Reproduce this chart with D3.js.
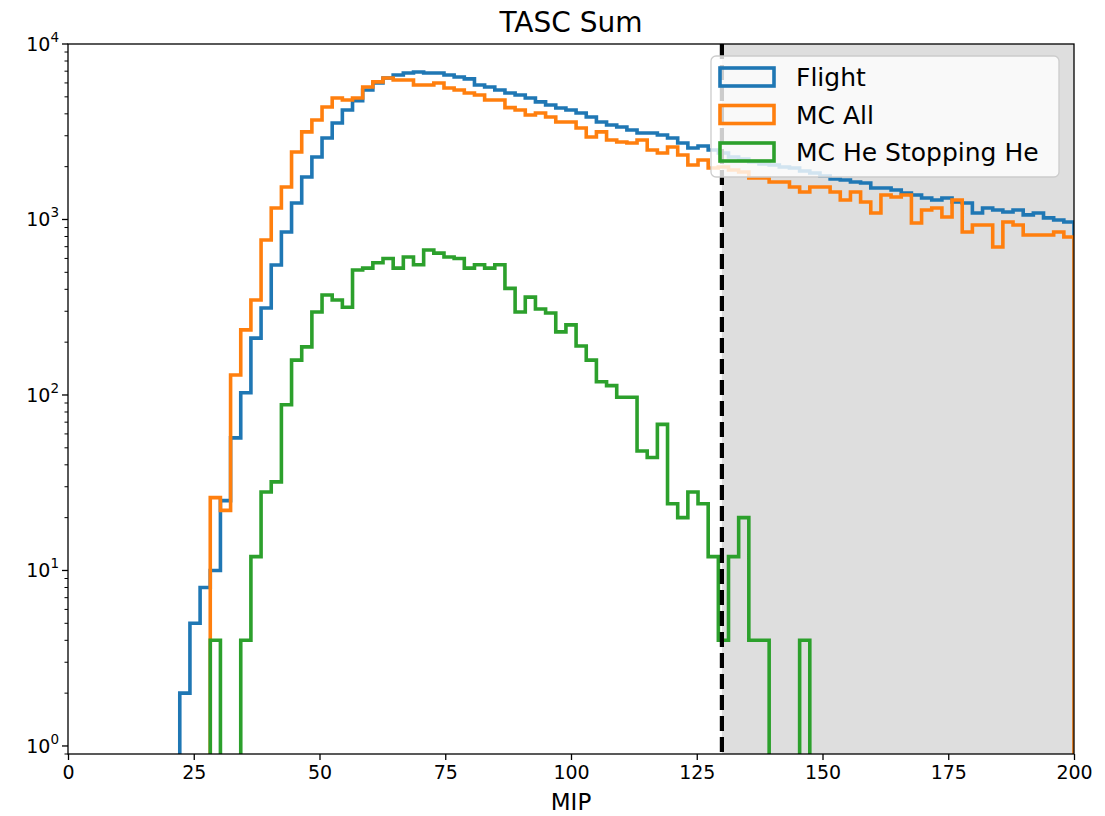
<!DOCTYPE html>
<html>
<head>
<meta charset="utf-8">
<script src="https://cdn.jsdelivr.net/npm/d3@7"></script>
<style>
  html, body { margin: 0; padding: 0; background: #fff; }
  svg { display: block; font-family: "DejaVu Sans", sans-serif; }
</style>
</head>
<body>
<svg id="chart" width="1105" height="816"></svg>
<script>
// ---- data ----
const binCount = 99;          // 100 edges from 0 to 200
const xMin = 0, xMax = 200;
const flight = [
  0,0,0,0,0,0,0,0,0,0, 0,2,5,8,10,25,57,103,211,313,
  550,849,1242,1747,2270,2912,3548,4207,4750,5470,
  5998,6400,6656,6837,6925,6837,6837,6656,6486,6324,
  5838,5686,5470,5256,5120,4924,4677,4490,4318,4207,
  4044,3838,3594,3455,3365,3236,3111,3111,3029,2912,
  2728,2553,2623,2489,2393,2270,2208,2128,2071,2046,
  1992,1965,1888,1841,1770,1702,1679,1636,1615,1511,
  1511,1472,1416,1380,1327,1291,1327,1259,1242,1089,
  1163,1132,1104,1132,1062,1089,1021,993,968
];
const mcAll = [
  0,0,0,0,0,0,0,0,0,0, 0,0,0,0,26,22,130,235,348,764,
  1163,1532,2426,3155,3691,4375,4924,4797,4924,5686,
  6085,6400,6241,6241,5838,5838,5998,5615,5470,5256,
  5120,4797,4797,4340,4207,3941,4044,3838,3594,3594,
  3320,2951,3155,2838,2766,2728,2838,2489,2393,2588,
  2332,2046,2184,1965,1992,1914,1866,1724,1724,1636,
  1636,1532,1435,1532,1532,1435,1291,1435,1259,1089,
  1380,1343,1380,955,1132,1163,1033,1291,849,930,
  930,697,968,930,816,816,816,849,795
];
const mcHe = [
  0,0,0,0,0,0,0,0,0,0, 0,0,0,0,4,0,0,4,12,28,
  32,88,158,188,297,371,348,316,515,528,
  567,600,528,611,552,670,643,611,600,528,
  552,528,552,405,297,361,309,293,229,251,
  190,158,119,113,97,97,48,44,68,24,
  20,28,24,12,4,12,20,4,4,0,
  0,0,4,0,0,0,0,0,0,0,
  0,0,0,0,0,0,0,0,0,0,
  0,0,0,0,0,0,0,0,0
];
const seriesNames = ["Flight", "MC All", "MC He Stopping He"];
const seriesColors = ["#1f77b4", "#ff7f0e", "#2ca02c"];
const xTicks = [0, 25, 50, 75, 100, 125, 150, 175, 200];
const yTickExp = [0, 1, 2, 3, 4];
const cutValue = 130;
const titleText = "TASC Sum";
const xLabelText = "MIP";

// ---- layout ----
const svg = d3.select("#chart");
const L = 68, R = 1074, T = 44, B = 754;
const x = d3.scaleLinear().domain([xMin, xMax]).range([L, R]);
const y = d3.scaleLog().domain([0.9, 1e4]).range([B, T]);
const edges = d3.range(binCount + 1).map(i => xMin + i * (xMax - xMin) / binCount);

svg.append("defs").append("clipPath").attr("id", "plotclip")
  .append("rect").attr("x", L).attr("y", T).attr("width", R - L).attr("height", B - T);

// shaded region
svg.append("rect")
  .attr("x", x(cutValue)).attr("y", T)
  .attr("width", x(xMax) - x(cutValue)).attr("height", B - T)
  .attr("fill", "#dedede");

// step histograms
const floorVal = 0.1;
function stepPoints(vals) {
  const pts = [[edges[0], floorVal]];
  vals.forEach((v, i) => {
    const vv = v > 0 ? v : floorVal;
    pts.push([edges[i], vv]);
    pts.push([edges[i + 1], vv]);
  });
  pts.push([edges[vals.length], floorVal]);
  return pts;
}
const line = d3.line().x(d => x(d[0])).y(d => y(d[1]));
const g = svg.append("g").attr("clip-path", "url(#plotclip)");
[flight, mcAll, mcHe].forEach((vals, k) => {
  g.append("path")
    .attr("d", line(stepPoints(vals)))
    .attr("fill", "none")
    .attr("stroke", seriesColors[k])
    .attr("stroke-width", 3.6)
    .attr("stroke-linejoin", "miter");
});

// dashed cut line
svg.append("line")
  .attr("x1", x(cutValue)).attr("x2", x(cutValue))
  .attr("y1", T).attr("y2", B)
  .attr("stroke", "#000").attr("stroke-width", 4.2)
  .attr("stroke-dasharray", "15,6");

// axes
const xAxis = d3.axisBottom(x).tickValues(xTicks).tickSize(6).tickPadding(6).tickFormat(d3.format("d"));
const gx = svg.append("g").attr("transform", `translate(0,${B})`).call(xAxis);
gx.select(".domain").remove();
gx.selectAll(".tick line").attr("stroke", "#000").attr("stroke-width", 1.3);
gx.selectAll(".tick text").attr("font-size", 19).attr("fill", "#000")
  .attr("font-family", "DejaVu Sans");

// y ticks (major + minor)
const gy = svg.append("g");
yTickExp.forEach(e => {
  const v = Math.pow(10, e);
  gy.append("line").attr("x1", L - 6).attr("x2", L).attr("y1", y(v)).attr("y2", y(v))
    .attr("stroke", "#000").attr("stroke-width", 1.3);
  const t = gy.append("text").attr("x", L - 9).attr("y", y(v) + 7)
    .attr("text-anchor", "end").attr("font-size", 19).attr("fill", "#000");
  t.append("tspan").text("10");
  t.append("tspan").text(e).attr("font-size", 13.5).attr("dy", -9);
});
for (let e = -1; e < 4; e++) {
  for (let m = 2; m <= 9; m++) {
    const v = m * Math.pow(10, e);
    if (v < 0.9 || v > 1e4) continue;
    gy.append("line").attr("x1", L - 3.5).attr("x2", L).attr("y1", y(v)).attr("y2", y(v))
      .attr("stroke", "#000").attr("stroke-width", 1);
  }
}

// spines
svg.append("rect").attr("x", L).attr("y", T).attr("width", R - L).attr("height", B - T)
  .attr("fill", "none").attr("stroke", "#000").attr("stroke-width", 1.3);

// title & label
svg.append("text").attr("x", (L + R) / 2).attr("y", 32).attr("text-anchor", "middle")
  .attr("font-size", 28).attr("fill", "#000").text(titleText);
svg.append("text").attr("x", (L + R) / 2).attr("y", 810).attr("text-anchor", "middle")
  .attr("font-size", 23).attr("fill", "#000").text(xLabelText);

// legend
const lg = svg.append("g");
const lgX = 711, lgY = 56, lgW = 348, lgH = 121;
lg.append("rect").attr("x", lgX).attr("y", lgY).attr("width", lgW).attr("height", lgH)
  .attr("rx", 5).attr("ry", 5)
  .attr("fill", "#ffffff").attr("fill-opacity", 0.8)
  .attr("stroke", "#cccccc").attr("stroke-width", 1.3);
seriesNames.forEach((name, i) => {
  const cy = 77 + i * 37.5;
  lg.append("rect").attr("x", 720).attr("y", cy - 9).attr("width", 54).attr("height", 18)
    .attr("fill", "none").attr("stroke", seriesColors[i]).attr("stroke-width", 3.6);
  lg.append("text").attr("x", 796).attr("y", cy + 9).attr("font-size", 25)
    .attr("fill", "#000").text(name);
});
</script>
</body>
</html>
